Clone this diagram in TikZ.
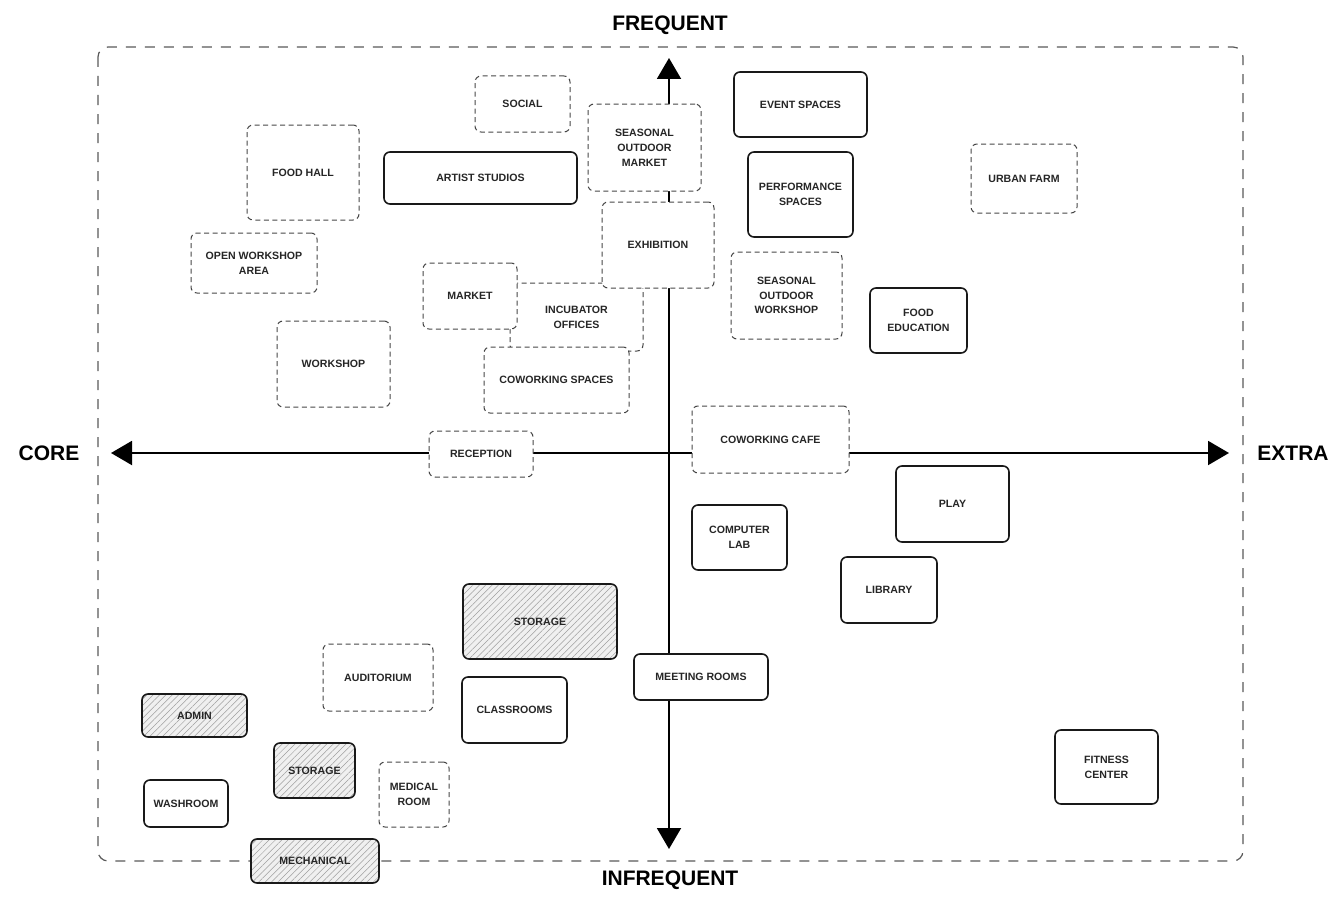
\documentclass[tikz,border=0pt]{standalone}
\usepackage{fontspec}
\setmainfont{Liberation Sans}
\usetikzlibrary{arrows.meta, patterns.meta}

\begin{document}
\begin{tikzpicture}[
  x=1pt, y=-1pt,
  every node/.style={align=center, inner sep=0pt, text=black!85, font=\bfseries\fontsize{10.6}{14.8}\selectfont},
  dashbox/.style={draw=black!72, line width=1pt, dash pattern=on 5pt off 3.5pt, rounded corners=6pt, fill=white},
  solidbox/.style={draw=black!90, line width=1.6pt, rounded corners=6pt, fill=white},
  hatchbox/.style={draw=black!90, line width=1.6pt, rounded corners=6pt,
    preaction={fill=gray!12},
    preaction={pattern={Lines[angle=45, distance=4.5pt, line width=0.5pt]}, pattern color=gray!75}},
  axis/.style={line width=2pt, {Triangle[length=21pt, width=24pt]}-{Triangle[length=21pt, width=24pt]}},
  axislabel/.style={text=black, font=\bfseries\fontsize{21}{25}\selectfont}
]
\useasboundingbox (0,0) rectangle (1334,899);

% outer frame
\draw[black!65, line width=1.2pt, dash pattern=on 10pt off 9pt, rounded corners=10pt] (98,47) rectangle (1243,861);

% axes
\coordinate (top) at (669,58);
\coordinate (bottom) at (669,849);
\coordinate (left) at (111,453);
\coordinate (right) at (1229,453);
\draw[axis] (bottom) -- (top);
\draw[axis] (left) -- (right);

\node[axislabel] (freq) at (670,25) {FREQUENT};
\node[axislabel] (infreq) at (670,880) {INFREQUENT};
\node[axislabel] (core) at (49,453) {CORE};
\node[axislabel] (extra) at (1293,453) {EXTRA};

% frequent spaces
\node[dashbox, minimum width=95, minimum height=56] (social) at (522.5,104) {SOCIAL};
\node[dashbox, minimum width=113, minimum height=87] (somarket) at (644.5,147.5) {SEASONAL\\OUTDOOR\\MARKET};
\node[solidbox, minimum width=133, minimum height=65] (events) at (800.5,104.5) {EVENT SPACES};
\node[dashbox, minimum width=112, minimum height=95] (foodhall) at (303,172.5) {FOOD HALL};
\node[solidbox, minimum width=193, minimum height=52] (artist) at (480.5,178) {ARTIST STUDIOS};
\node[solidbox, minimum width=105, minimum height=85] (perform) at (800.5,194.5) {PERFORMANCE\\SPACES};
\node[dashbox, minimum width=106, minimum height=69] (farm) at (1024,178.5) {URBAN FARM};
\node[dashbox, minimum width=126, minimum height=60] (openws) at (254,263) {OPEN WORKSHOP\\AREA};
\node[dashbox, minimum width=133, minimum height=68] (incub) at (576.5,317) {INCUBATOR\\OFFICES};
\node[dashbox, minimum width=94, minimum height=66] (market) at (470,296) {MARKET};
\node[dashbox, minimum width=112, minimum height=86] (exhib) at (658,245) {EXHIBITION};
\node[dashbox, minimum width=111, minimum height=87] (soworkshop) at (786.5,295.5) {SEASONAL\\OUTDOOR\\WORKSHOP};
\node[solidbox, minimum width=97, minimum height=65] (foodedu) at (918.5,320.5) {FOOD\\EDUCATION};
\node[dashbox, minimum width=113, minimum height=86] (workshop) at (333.5,364) {WORKSHOP};
\node[dashbox, minimum width=145, minimum height=66] (cowork) at (556.5,380) {COWORKING SPACES};
\node[dashbox, minimum width=104, minimum height=46] (reception) at (481,454) {RECEPTION};
\node[dashbox, minimum width=157, minimum height=67] (cafe) at (770.5,439.5) {COWORKING CAFE};

% infrequent spaces
\node[solidbox, minimum width=113, minimum height=76] (play) at (952.5,504) {PLAY};
\node[solidbox, minimum width=95, minimum height=65] (complab) at (739.5,537.5) {COMPUTER\\LAB};
\node[solidbox, minimum width=96, minimum height=66] (library) at (889,590) {LIBRARY};
\node[hatchbox, minimum width=154, minimum height=75] (storage) at (540,621.5) {STORAGE};
\node[solidbox, minimum width=134, minimum height=46] (meeting) at (701,677) {MEETING ROOMS};
\node[dashbox, minimum width=110, minimum height=67] (audit) at (378,677.5) {AUDITORIUM};
\node[solidbox, minimum width=105, minimum height=66] (class) at (514.5,710) {CLASSROOMS};
\node[hatchbox, minimum width=105, minimum height=43] (admin) at (194.5,715.5) {ADMIN};
\node[hatchbox, minimum width=81, minimum height=55] (storagesm) at (314.5,770.5) {STORAGE};
\node[dashbox, minimum width=70, minimum height=65] (medical) at (414,794.5) {MEDICAL\\ROOM};
\node[solidbox, minimum width=84, minimum height=47] (washroom) at (186,803.5) {WASHROOM};
\node[solidbox, minimum width=103, minimum height=74] (fitness) at (1106.5,767) {FITNESS\\CENTER};
\node[hatchbox, minimum width=128, minimum height=44] (mech) at (315,861) {MECHANICAL};
\end{tikzpicture}
\end{document}
